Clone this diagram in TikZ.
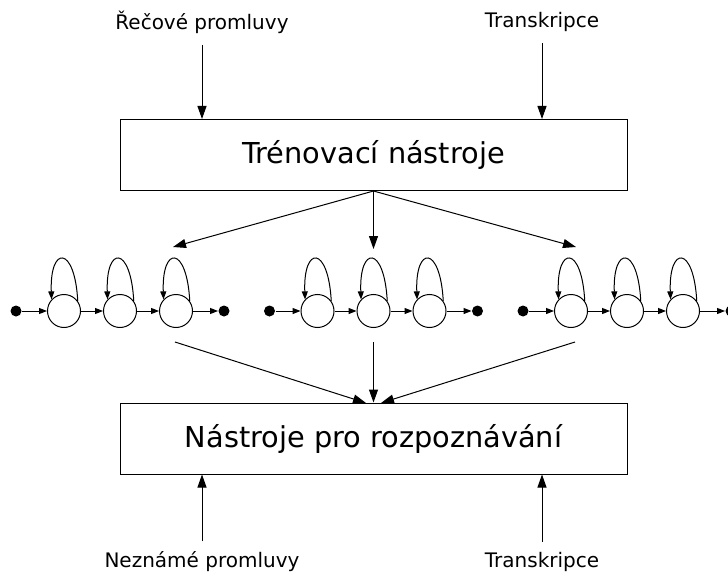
\documentclass[tikz,border=0pt]{standalone}
\usepackage{fontspec}
\setmainfont{DejaVu Sans}
\usetikzlibrary{arrows.meta}
\begin{document}
\begin{tikzpicture}[x=1pt,y=-1pt,
  line width=1pt,
  block/.style={draw, minimum width=507pt, minimum height=71pt, inner sep=0pt,
    font=\fontsize{28.8}{32}\selectfont},
  label/.style={inner sep=0pt, font=\fontsize{20}{23}\selectfont},
  bigarrow/.style={-{Triangle[length=13pt,width=9pt]}},
  smallarrow/.style={-{Triangle[length=8pt,width=6pt]}},
  state/.style={circle, draw, minimum size=33pt, inner sep=0pt},
  term/.style={circle, fill, minimum size=11pt, inner sep=0pt}]
\useasboundingbox (0,0) rectangle (728,575);

% main blocks
\node[block] (train) at (373.5,155) {Trénovací nástroje};
\node[block] (recog) at (373.5,438.5) {Nástroje pro rozpoznávání};

% inputs and outputs
\node[label] (in1) at (202,22) {Řečové promluvy};
\node[label] (in2) at (542,22) {Transkripce};
\node[label] (out1) at (202,562) {Neznámé promluvy};
\node[label] (out2) at (542,562) {Transkripce};

\draw[bigarrow, shorten <=11pt] (in1.south) -- (in1.south |- train.north);
\draw[bigarrow, shorten <=11pt] (in2.south) -- (in2.south |- train.north);
\draw[bigarrow, shorten <=10pt] (out1.north) -- (out1.north |- recog.south);
\draw[bigarrow, shorten <=10pt] (out2.north) -- (out2.north |- recog.south);

% three left-to-right HMMs
\foreach \m [count=\k] in {120,373.5,627} {
  \node[term]  (b\k) at (\m-104,311) {};
  \node[state] (p\k) at (\m-56,311) {};
  \node[state] (q\k) at (\m,311) {};
  \node[state] (r\k) at (\m+56,311) {};
  \node[term]  (e\k) at (\m+104,311) {};
  \draw[smallarrow] (b\k) -- (p\k);
  \draw[smallarrow] (p\k) -- (q\k);
  \draw[smallarrow] (q\k) -- (r\k);
  \draw[smallarrow] (r\k) -- (e\k);
  \foreach \s in {p,q,r}
    \draw[smallarrow] (\s\k.36) .. controls +(-3,-56) and +(-2,-54) .. (\s\k.137);
}

% model sets produced by training and used for recognition
\coordinate (t1) at (173,247);
\coordinate (t2) at (373.5,249);
\coordinate (t3) at (576,247);
\coordinate (u1) at (175,342);
\coordinate (u2) at (373.5,342);
\coordinate (u3) at (575,342);
\coordinate (v1) at (366,403);
\coordinate (v3) at (381,403);

\draw[bigarrow] (train.south) -- (t1);
\draw[bigarrow] (train.south) -- (t2);
\draw[bigarrow] (train.south) -- (t3);
\draw[bigarrow] (u1) -- (v1);
\draw[bigarrow] (u2) -- (u2 |- recog.north);
\draw[bigarrow] (u3) -- (v3);
\end{tikzpicture}
\end{document}
